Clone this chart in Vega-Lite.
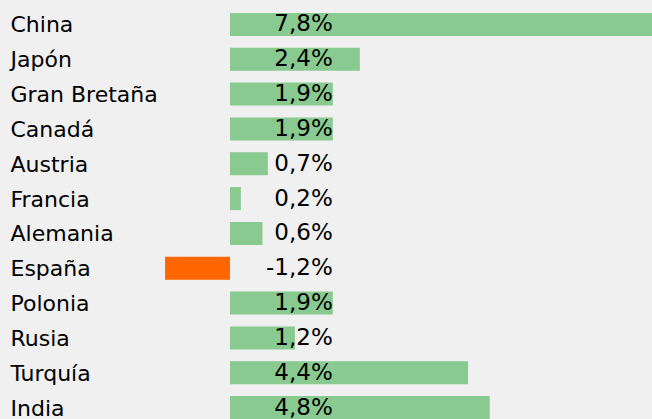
{
  "$schema": "https://vega.github.io/schema/vega-lite/v6.json",
  "width": 652,
  "height": 419,
  "autosize": "none",
  "padding": 0,
  "background": "#f0f0f0",
  "config": {
    "view": {"stroke": null},
    "font": "DejaVu Sans",
    "locale": {"number": {"decimal": ",", "thousands": ".", "grouping": [3], "currency": ["", " €"], "minus": "-"}}
  },
  "data": {
    "values": [
      {"country": "China", "value": 0.078},
      {"country": "Japón", "value": 0.024},
      {"country": "Gran Bretaña", "value": 0.019},
      {"country": "Canadá", "value": 0.019},
      {"country": "Austria", "value": 0.007},
      {"country": "Francia", "value": 0.002},
      {"country": "Alemania", "value": 0.006},
      {"country": "España", "value": -0.012},
      {"country": "Polonia", "value": 0.019},
      {"country": "Rusia", "value": 0.012},
      {"country": "Turquía", "value": 0.044},
      {"country": "India", "value": 0.048}
    ]
  },
  "encoding": {
    "y": {
      "field": "country",
      "type": "nominal",
      "sort": null,
      "scale": {"range": [7, 425], "paddingInner": 0.34, "paddingOuter": 0.17},
      "axis": {
        "title": null,
        "domain": false,
        "ticks": false,
        "tickSize": 0,
        "labelAlign": "left",
        "labelBaseline": "middle",
        "labelPadding": -10,
        "labelOffset": 1,
        "labelFontSize": 22,
        "labelFont": "DejaVu Sans",
        "labelColor": "#000000",
        "labelLimit": 0
      }
    }
  },
  "layer": [
    {
      "mark": {"type": "bar"},
      "encoding": {
        "x": {
          "field": "value",
          "type": "quantitative",
          "scale": {"domain": [-0.04251, 0.078], "nice": false, "zero": false},
          "axis": null
        },
        "color": {
          "condition": {"test": "datum.value < 0", "value": "#ff6600"},
          "value": "#88ca90"
        }
      }
    },
    {
      "mark": {"type": "text", "align": "right", "baseline": "middle", "fontSize": 23, "color": "#000000", "font": "DejaVu Sans", "dy": 0},
      "encoding": {
        "x": {"datum": 0.019, "type": "quantitative"},
        "text": {"field": "value", "type": "quantitative", "format": ".1%"}
      }
    }
  ]
}
